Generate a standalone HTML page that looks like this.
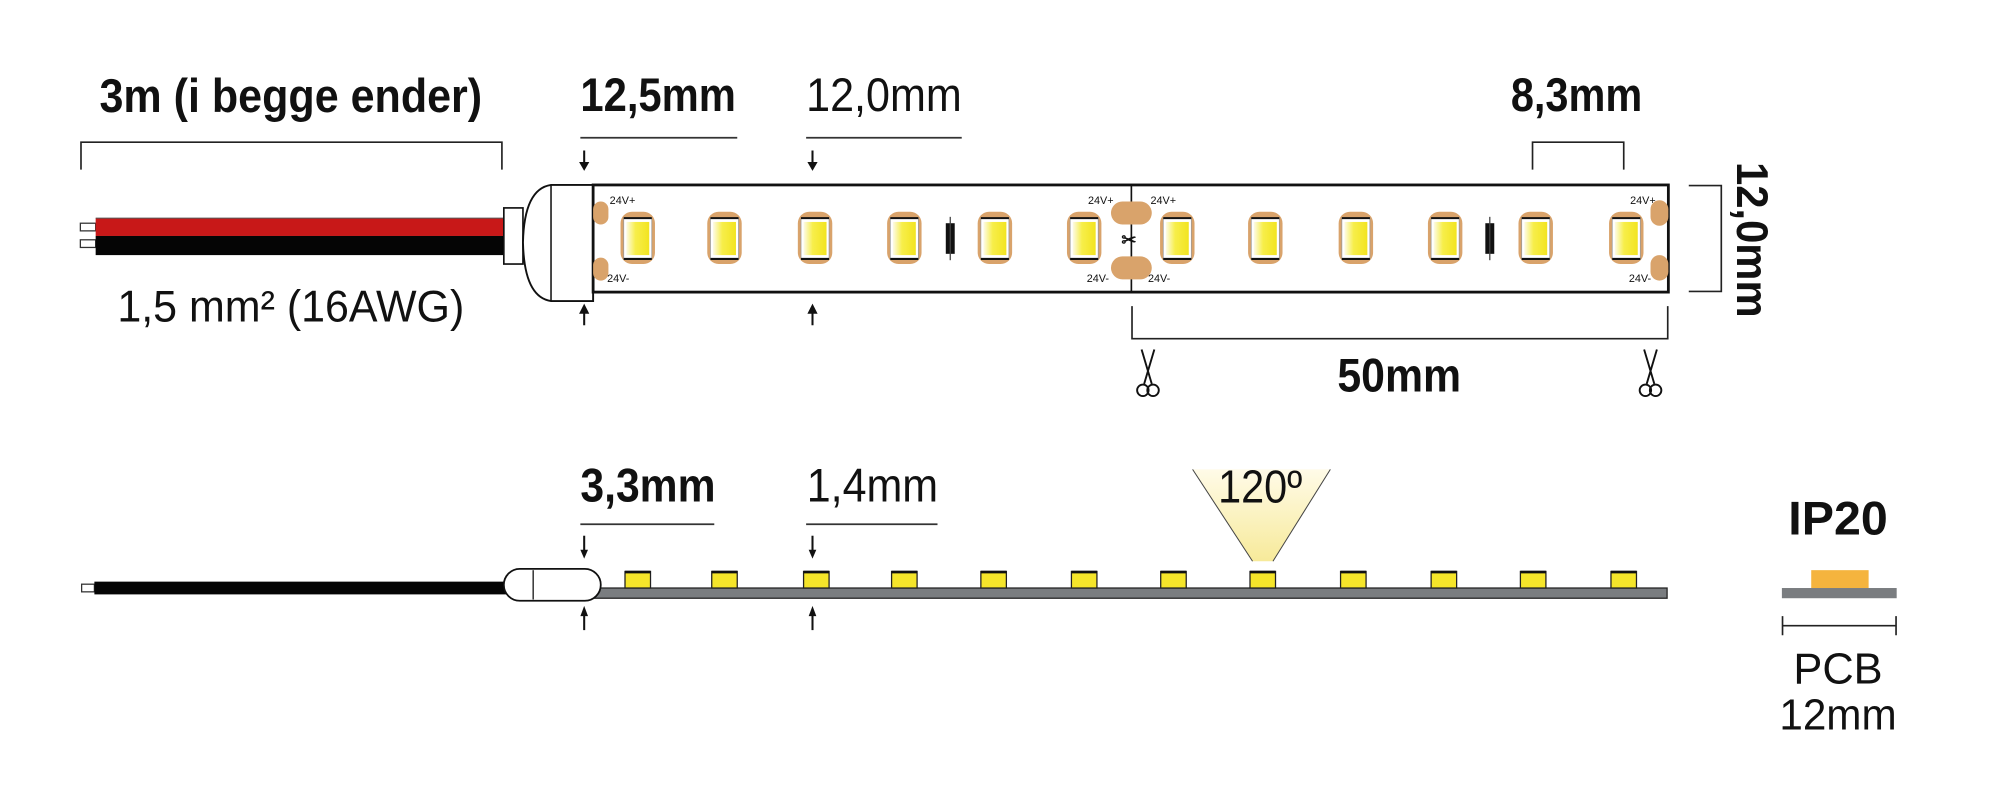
<!DOCTYPE html>
<html><head><meta charset="utf-8"><style>
html,body{margin:0;padding:0;background:#fff;width:2000px;height:787px;overflow:hidden}
svg{display:block}
text{font-family:"Liberation Sans",sans-serif;fill:#111}
</style></head><body>
<svg width="2000" height="787" viewBox="0 0 1568 617" preserveAspectRatio="none" xmlns="http://www.w3.org/2000/svg">
<defs>
<linearGradient id="ly" x1="0" x2="1" y1="0" y2="0">
<stop offset="0" stop-color="#fdfbe8"/><stop offset="0.4" stop-color="#f7ee4a"/><stop offset="1" stop-color="#f2e420"/></linearGradient>
<linearGradient id="cone" x1="0" x2="0" y1="0" y2="1">
<stop offset="0" stop-color="#fffbe8"/><stop offset="1" stop-color="#f7ea9a"/></linearGradient>
<g id="led">
<rect x="-13.5" y="-21" width="27" height="41" rx="9" fill="#d9a36b"/>
<rect x="-11" y="-16" width="22" height="32" fill="#fff" stroke="#999" stroke-width="0.6"/>
<line x1="-11" x2="11" y1="-16" y2="-16" stroke="#111" stroke-width="1.6"/>
<line x1="-11" x2="11" y1="16" y2="16" stroke="#111" stroke-width="1.6"/>
<rect x="-9" y="-13" width="18" height="26" fill="url(#ly)"/>
</g>
<g id="res"><rect x="-3.5" y="-12" width="7" height="24" fill="#111"/><line x1="0" x2="0" y1="-17" y2="17" stroke="#444" stroke-width="1"/></g>
<g id="pad"><rect x="-16" y="-9" width="32" height="18" rx="9" fill="#d9a36b"/></g>
<g id="scis" fill="none" stroke="#111" stroke-width="1.5">
<line x1="-5" y1="-19" x2="3" y2="8"/><line x1="5" y1="-19" x2="-3" y2="8"/>
<circle cx="-4" cy="13" r="4.5"/><circle cx="4" cy="13" r="4.5"/></g>
<g id="bled"><rect x="-10" y="0" width="20" height="13" fill="#f5e52a" stroke="#222" stroke-width="1"/><line x1="-10" x2="10" y1="0.5" y2="0.5" stroke="#111" stroke-width="2"/></g>
</defs>

<text x="228" y="88" font-size="37" font-weight="bold" text-anchor="middle" textLength="300" lengthAdjust="spacingAndGlyphs">3m (i begge ender)</text>
<path d="M63.5 133 V111.5 H393.5 V133" fill="none" stroke="#222" stroke-width="1.3"/>
<rect x="63" y="175" width="12" height="6" fill="#fff" stroke="#333" stroke-width="1"/>
<rect x="63" y="188" width="12" height="6" fill="#fff" stroke="#333" stroke-width="1"/>
<rect x="75" y="171" width="321" height="14" fill="#c81818"/>
<rect x="75" y="185" width="321" height="15" fill="#050505"/>
<line x1="75" x2="396" y1="171" y2="171" stroke="#555" stroke-width="0.8"/>
<text x="228" y="252" font-size="35" text-anchor="middle" textLength="272" lengthAdjust="spacingAndGlyphs">1,5 mm² (16AWG)</text>
<rect x="395" y="163" width="15" height="44" fill="#fff" stroke="#111" stroke-width="1.3"/>
<path d="M465 145 H432 Q411 148 410 190 Q411 233 432 236 H465 Z" fill="#fff" stroke="#111" stroke-width="1.5"/>
<line x1="432" x2="432" y1="145" y2="236" stroke="#111" stroke-width="1.2"/>
<rect x="465" y="145" width="843" height="84" fill="#fff" stroke="#111" stroke-width="2.2"/>
<line x1="887" x2="887" y1="145" y2="229" stroke="#111" stroke-width="1.3"/>
<g transform="translate(471,167)"><rect x="-6" y="-9" width="12" height="18" rx="6" fill="#d9a36b"/></g>
<g transform="translate(471,211)"><rect x="-6" y="-9" width="12" height="18" rx="6" fill="#d9a36b"/></g>
<use href="#pad" x="887" y="167"/><use href="#pad" x="887" y="210"/>
<g transform="translate(1302,167)"><rect x="-8" y="-10" width="14" height="20" rx="7" fill="#d9a36b"/></g>
<g transform="translate(1302,210)"><rect x="-8" y="-10" width="14" height="20" rx="7" fill="#d9a36b"/></g>
<text x="885" y="193" font-size="14" font-weight="bold" text-anchor="middle">✂</text>
<g font-size="8.5">
<text x="478" y="160">24V+</text><text x="476" y="221">24V-</text>
<text x="853" y="160">24V+</text><text x="852" y="221">24V-</text>
<text x="902" y="160">24V+</text><text x="900" y="221">24V-</text>
<text x="1278" y="160">24V+</text><text x="1277" y="221">24V-</text>
</g>
<use href="#led" x="500" y="187"/><use href="#led" x="568" y="187"/><use href="#led" x="639" y="187"/>
<use href="#led" x="709" y="187"/><use href="#led" x="780" y="187"/><use href="#led" x="850" y="187"/>
<use href="#res" x="745" y="187"/>
<use href="#led" x="923" y="187"/><use href="#led" x="992" y="187"/><use href="#led" x="1063" y="187"/>
<use href="#led" x="1133" y="187"/><use href="#led" x="1204" y="187"/><use href="#led" x="1275" y="187"/>
<use href="#res" x="1168" y="187"/>

<text x="516" y="87" font-size="37" font-weight="bold" text-anchor="middle" textLength="122" lengthAdjust="spacingAndGlyphs">12,5mm</text>
<line x1="455" x2="578" y1="108" y2="108" stroke="#333" stroke-width="1.3"/>
<text x="693" y="87" font-size="37" text-anchor="middle" textLength="122" lengthAdjust="spacingAndGlyphs">12,0mm</text>
<line x1="632" x2="754" y1="108" y2="108" stroke="#333" stroke-width="1.3"/>
<g stroke="#111" stroke-width="1.6" fill="#111">
<line x1="458" x2="458" y1="118" y2="128"/><path d="M454 127 L462 127 L458 134Z" stroke="none"/>
<line x1="637" x2="637" y1="118" y2="128"/><path d="M633 127 L641 127 L637 134Z" stroke="none"/>
<line x1="458" x2="458" y1="245" y2="255"/><path d="M454 246 L462 246 L458 238Z" stroke="none"/>
<line x1="637" x2="637" y1="245" y2="255"/><path d="M633 246 L641 246 L637 238Z" stroke="none"/>
</g>
<text x="1236" y="87" font-size="37" font-weight="bold" text-anchor="middle" textLength="103" lengthAdjust="spacingAndGlyphs">8,3mm</text>
<path d="M1201.5 133 V111.5 H1273 V133" fill="none" stroke="#222" stroke-width="1.3"/>
<path d="M1324 145.5 H1349.5 V228.5 H1324" fill="none" stroke="#222" stroke-width="1.3"/>
<text transform="translate(1362,127) rotate(90)" font-size="35" font-weight="bold" textLength="122" lengthAdjust="spacingAndGlyphs">12,0mm</text>
<path d="M887.5 240 V265.5 H1307.5 V240" fill="none" stroke="#222" stroke-width="1.3"/>
<text x="1097" y="307" font-size="37" font-weight="bold" text-anchor="middle" textLength="97" lengthAdjust="spacingAndGlyphs">50mm</text>
<use href="#scis" x="900" y="293"/><use href="#scis" x="1294" y="293"/>

<text x="508" y="393" font-size="37" font-weight="bold" text-anchor="middle" textLength="106" lengthAdjust="spacingAndGlyphs">3,3mm</text>
<line x1="455" x2="560" y1="411" y2="411" stroke="#333" stroke-width="1.3"/>
<text x="684" y="393" font-size="37" text-anchor="middle" textLength="103" lengthAdjust="spacingAndGlyphs">1,4mm</text>
<line x1="632" x2="735" y1="411" y2="411" stroke="#333" stroke-width="1.3"/>
<g stroke="#111" stroke-width="1.6" fill="#111">
<line x1="458" x2="458" y1="420" y2="432"/><path d="M455 431 L461 431 L458 438Z" stroke="none"/>
<line x1="637" x2="637" y1="420" y2="432"/><path d="M634 431 L640 431 L637 438Z" stroke="none"/>
<line x1="458" x2="458" y1="482" y2="494"/><path d="M455 483 L461 483 L458 475Z" stroke="none"/>
<line x1="637" x2="637" y1="482" y2="494"/><path d="M634 483 L640 483 L637 475Z" stroke="none"/>
</g>
<path d="M935 368 L1043 368 L998 440 L982 440 Z" fill="url(#cone)"/>
<line x1="935" y1="368" x2="982" y2="440" stroke="#444" stroke-width="0.8"/>
<line x1="1043" y1="368" x2="998" y2="440" stroke="#444" stroke-width="0.8"/>
<text x="988" y="394" font-size="36" text-anchor="middle" textLength="66" lengthAdjust="spacingAndGlyphs">120º</text>
<rect x="64" y="458" width="10" height="6" fill="#fff" stroke="#333" stroke-width="1"/>
<rect x="74" y="456" width="325" height="10" fill="#050505"/>
<rect x="462" y="461" width="845" height="8" fill="#7a7d80" stroke="#222" stroke-width="1"/>
<rect x="395" y="446" width="76" height="25" rx="12.5" fill="#fff" stroke="#111" stroke-width="1.4"/>
<line x1="418" x2="418" y1="447" y2="470" stroke="#111" stroke-width="1"/>
<use href="#bled" x="500" y="448"/><use href="#bled" x="568" y="448"/><use href="#bled" x="640" y="448"/>
<use href="#bled" x="709" y="448"/><use href="#bled" x="779" y="448"/><use href="#bled" x="850" y="448"/>
<use href="#bled" x="920" y="448"/><use href="#bled" x="990" y="448"/><use href="#bled" x="1061" y="448"/>
<use href="#bled" x="1132" y="448"/><use href="#bled" x="1202" y="448"/><use href="#bled" x="1273" y="448"/>

<text x="1441" y="419" font-size="37" font-weight="bold" text-anchor="middle" textLength="78" lengthAdjust="spacingAndGlyphs">IP20</text>
<rect x="1420" y="447" width="45" height="14" fill="#f5b43e"/>
<rect x="1397" y="461" width="90" height="8" fill="#7a7d80"/>
<path d="M1397.5 483 V498 M1397.5 490.5 H1486.5 M1486.5 483 V498" fill="none" stroke="#222" stroke-width="1.3"/>
<text x="1441" y="536" font-size="34" text-anchor="middle" textLength="70" lengthAdjust="spacingAndGlyphs">PCB</text>
<text x="1441" y="572" font-size="34" text-anchor="middle" textLength="92" lengthAdjust="spacingAndGlyphs">12mm</text>
</svg>
</body></html>
